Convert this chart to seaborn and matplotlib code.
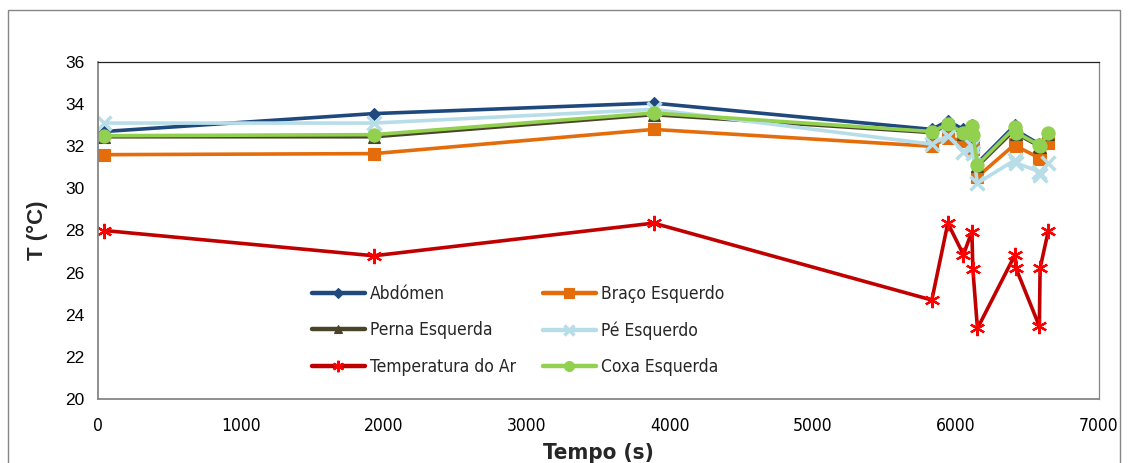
import matplotlib
matplotlib.use("Agg")
import matplotlib.pyplot as plt
import seaborn as sns
from matplotlib.patches import Rectangle
from matplotlib.lines import Line2D
from matplotlib.font_manager import FontProperties

# ---- data ----
tempo = [42, 1929, 3885, 5831, 5943, 6052, 6111, 6118, 6150, 6413, 6420, 6583, 6588, 6646]
abdomen = [32.7, 33.55, 34.05, 32.8, 33.2, 32.8, 33.0, 32.65, 31.2, 33.0, 32.75, 32.1, 32.0, 32.65]
braco = [31.6, 31.65, 32.8, 32.0, 32.4, 32.25, 31.95, 31.85, 30.55, 32.1, 32.0, 31.45, 31.4, 32.15]
perna = [32.45, 32.45, 33.5, 32.65, 33.0, 32.6, 32.9, 32.5, 31.05, 32.8, 32.6, 32.0, 31.95, 32.6]
pe = [33.1, 33.1, 33.75, 32.1, 32.5, 31.75, 32.0, 31.7, 30.25, 31.35, 31.2, 30.8, 30.65, 31.2]
temp_ar = [28.0, 26.8, 28.35, 24.7, 28.35, 26.85, 27.95, 26.15, 23.35, 26.85, 26.2, 23.45, 26.2, 28.0]
coxa = [32.5, 32.55, 33.58, 32.7, 33.05, 32.65, 32.95, 32.55, 31.12, 32.9, 32.65, 32.05, 32.0, 32.65]

series_names = ["Abdómen", "Braço Esquerdo", "Perna Esquerda", "Pé Esquerdo",
                "Temperatura do Ar", "Coxa Esquerda"]
series_values = [abdomen, braco, perna, pe, temp_ar, coxa]
x_ticks = [0, 1000, 2000, 3000, 4000, 5000, 6000, 7000]
y_ticks = [20, 22, 24, 26, 28, 30, 32, 34, 36]

styles = {
    "Abdómen": dict(color="#1F497D", marker="D", ms=6.5, mfc="#1F497D", mec="#1F497D"),
    "Braço Esquerdo": dict(color="#E46C0A", marker="s", ms=9, mfc="#E46C0A", mec="#E46C0A"),
    "Perna Esquerda": dict(color="#4A452A", marker="^", ms=8, mfc="#4A452A", mec="#4A452A"),
    "Pé Esquerdo": dict(color="#B7DEE8", marker="x", ms=10, mfc="#B7DEE8", mec="#B7DEE8", mew=2.5),
    "Temperatura do Ar": dict(color="#C00000", marker=(6, 2, 0), ms=11, mfc="#FF0000", mec="#FF0000", mew=1.6),
    "Coxa Esquerda": dict(color="#92D050", marker="o", ms=9.5, mfc="#92D050", mec="#92D050"),
}

sns.set_theme(style="white")
plt.rcParams['font.family'] = ['Liberation Sans', 'DejaVu Sans']

narrow = FontProperties(family='DejaVu Sans', stretch='condensed', size=12.5)
narrow_bold = FontProperties(family='DejaVu Sans', stretch='condensed', weight='bold', size=16)

fig = plt.figure(figsize=(11.3, 4.63), dpi=100)
ax = fig.add_axes([98 / 1130, 1 - 399 / 463, (1099 - 98) / 1130, (399 - 62) / 463])

for name, vals in zip(series_names, series_values):
    st = styles[name]
    sns.lineplot(x=tempo, y=vals, ax=ax, estimator=None, sort=False,
                 color=st["color"], linewidth=2.6, marker=st["marker"],
                 markersize=st["ms"], markerfacecolor=st["mfc"],
                 markeredgecolor=st["mec"], markeredgewidth=st.get("mew", 0.8),
                 legend=False)

ax.set_xlim(0, 7000)
ax.set_ylim(20, 36)
ax.set_xticks(x_ticks)
ax.set_yticks(y_ticks)
ax.set_xticklabels([str(v) for v in x_ticks], fontproperties=narrow)
ax.set_yticklabels([str(v) for v in y_ticks], fontsize=12.5)
ax.tick_params(axis='both', direction='out', length=5, width=1, color='#868686',
               labelcolor='#000000')
ax.tick_params(axis='x', pad=8)
ax.tick_params(axis='y', pad=5)

for side in ['left', 'bottom']:
    ax.spines[side].set_color('#868686')
    ax.spines[side].set_linewidth(1.3)
ax.spines['top'].set_color('#222222')
ax.spines['top'].set_linewidth(0.9)
ax.spines['right'].set_color('#868686')
ax.spines['right'].set_linewidth(0.9)

ax.set_xlabel("Tempo (s)", fontproperties=narrow_bold, labelpad=6)
ax.set_ylabel("T (°C)", fontsize=16, fontweight='bold', labelpad=12)

# legend
handles = {}
for name in series_names:
    st = styles[name]
    handles[name] = Line2D([0], [0], color=st["color"], linewidth=3.2,
                           marker=st["marker"], markersize=st["ms"] * 0.75,
                           markerfacecolor=st["mfc"], markeredgecolor=st["mec"],
                           markeredgewidth=st.get("mew", 0.8))
order = ["Abdómen", "Perna Esquerda", "Temperatura do Ar",
         "Braço Esquerdo", "Pé Esquerdo", "Coxa Esquerda"]
leg = ax.legend([handles[n] for n in order], order, ncol=2,
                loc='upper left', bbox_to_anchor=(198 / 1001, 1 - 207 / 337),
                frameon=False, handlelength=3.05,
                columnspacing=1.55, labelspacing=1.07, handletextpad=0.3,
                prop=narrow)

# outer chart border
fig.patches.append(Rectangle((8 / 1130, -0.02), (1120 - 8) / 1130, 1.0 - 10 / 463 + 0.02,
                             transform=fig.transFigure, fill=False,
                             edgecolor='#868686', linewidth=1.0))

fig.savefig("out.png", dpi=100)
